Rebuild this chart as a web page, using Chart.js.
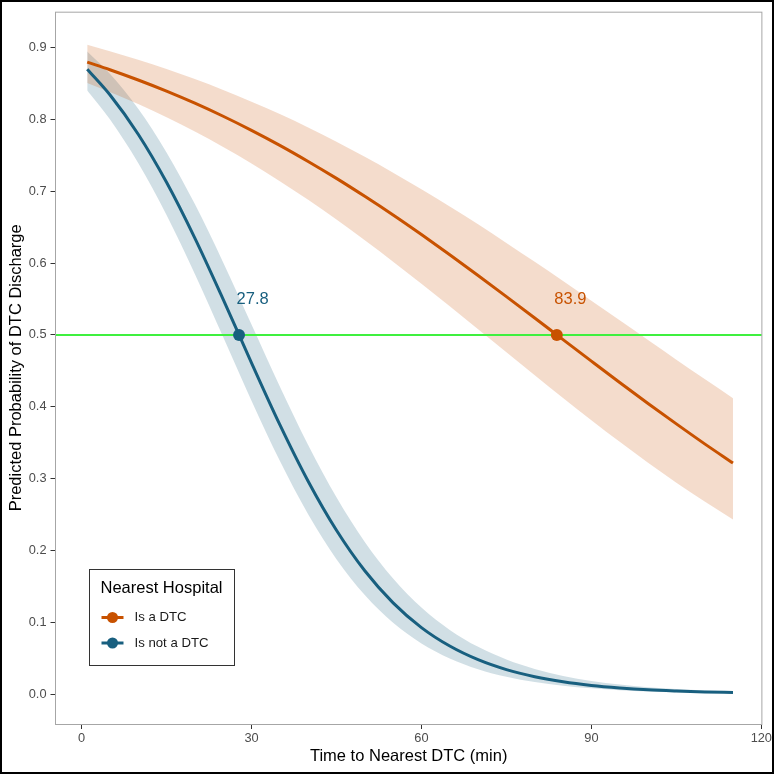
<!DOCTYPE html>
<html>
<head>
<meta charset="utf-8">
<script src="https://cdn.jsdelivr.net/npm/chart.js@4.4.1/dist/chart.umd.min.js"></script>
<style>
    html, body { margin: 0; padding: 0; background: #fff; }
    #wrap { position: relative; width: 774px; height: 774px; }
</style>
</head>
<body>
<div id="wrap"><canvas id="probChart" width="774" height="774"></canvas></div>
<script>
// values
let times = [1, 5, 10, 15, 20, 25, 30, 35, 40, 45, 50, 55, 60, 65, 70, 75, 80, 85, 90, 95, 100, 105, 110, 115];

let dtcFit = [0.8797, 0.8692, 0.8549, 0.8394, 0.8226, 0.8044, 0.7848, 0.7639, 0.7415, 0.7179, 0.6929, 0.6669, 0.6397, 0.6116, 0.5827, 0.5533, 0.5235, 0.4934, 0.4635, 0.4338, 0.4046, 0.3761, 0.3483, 0.3216];
let dtcUpper = [0.9038, 0.8950, 0.8832, 0.8702, 0.8562, 0.8410, 0.8247, 0.8074, 0.7887, 0.7689, 0.7480, 0.7259, 0.7029, 0.6787, 0.6539, 0.6281, 0.6018, 0.5749, 0.5477, 0.5203, 0.4929, 0.4655, 0.4385, 0.4118];
let dtcLower = [0.8507, 0.8382, 0.8214, 0.8030, 0.7831, 0.7617, 0.7387, 0.7140, 0.6881, 0.6606, 0.6318, 0.6020, 0.5713, 0.5399, 0.5080, 0.4760, 0.4440, 0.4122, 0.3812, 0.3511, 0.3221, 0.2943, 0.2679, 0.2430];

let nonFit = [0.8699, 0.8343, 0.7794, 0.7125, 0.6348, 0.5495, 0.4611, 0.3751, 0.2963, 0.2280, 0.1716, 0.1269, 0.0925, 0.0668, 0.0478, 0.0340, 0.0241, 0.0170, 0.0120, 0.0085, 0.0059, 0.0042, 0.0029, 0.0021];
let nonUpper = [0.8946, 0.8636, 0.8148, 0.7541, 0.6821, 0.6009, 0.5146, 0.4283, 0.3468, 0.2740, 0.2118, 0.1609, 0.1205, 0.0893, 0.0657, 0.0480, 0.0349, 0.0253, 0.0183, 0.0132, 0.0095, 0.0069, 0.0050, 0.0036];
let nonLower = [0.8404, 0.8002, 0.7392, 0.6669, 0.5848, 0.4970, 0.4084, 0.3247, 0.2503, 0.1878, 0.1378, 0.0992, 0.0705, 0.0496, 0.0346, 0.0240, 0.0166, 0.0114, 0.0079, 0.0054, 0.0037, 0.0025, 0.0017, 0.0012];

let groups = ['Is a DTC', 'Is not a DTC'];
let crossTimes = [83.9, 27.8];
let threshold = 0.5;

let xTicks = [0, 30, 60, 90, 120];
let yTicks = [0.0, 0.1, 0.2, 0.3, 0.4, 0.5, 0.6, 0.7, 0.8, 0.9];
let xRange = [-4.6, 120.1];
let yRange = [-0.0417, 0.95];

let orange = '#c85200';
let blue = '#185f7f';
let fontFamily = '"Liberation Sans", Arial, Helvetica, sans-serif';

function points(values) {
    return times.map((t, i) => ({ x: t, y: values[i] }));
}

function lineSet(values, color, extra) {
    let ds = {
        data: points(values),
        borderColor: color,
        borderWidth: 3,
        pointRadius: 0,
        cubicInterpolationMode: 'monotone',
        fill: false,
        order: 1
    };
    return Object.assign(ds, extra || {});
}

// panel border, value labels, legend and outer frame
let decorations = {
    id: 'decorations',
    beforeDraw(chart) {
        let ctx = chart.ctx;
        ctx.save();
        ctx.fillStyle = '#fff';
        ctx.fillRect(0, 0, chart.width, chart.height);
        ctx.restore();
    },
    afterDatasetsDraw(chart) {
        let ctx = chart.ctx;
        let x = chart.scales.x;
        let y = chart.scales.y;
        let colors = [orange, blue];
        ctx.save();
        ctx.font = '16.5px ' + fontFamily;
        ctx.textAlign = 'center';
        ctx.textBaseline = 'middle';
        crossTimes.forEach((t, i) => {
            ctx.fillStyle = colors[i];
            ctx.fillText(t.toFixed(1), x.getPixelForValue(t + 2.4), y.getPixelForValue(threshold + 0.05));
        });
        ctx.restore();
    },
    afterDraw(chart) {
        let ctx = chart.ctx;
        let a = chart.chartArea;
        ctx.save();

        ctx.strokeStyle = '#a6a6a6';
        ctx.lineWidth = 1;
        ctx.strokeRect(a.left, a.top + 0.5, a.right - a.left, a.bottom - a.top);

        // legend box
        ctx.fillStyle = '#fff';
        ctx.fillRect(89.5, 569.5, 145, 96);
        ctx.strokeStyle = '#333';
        ctx.strokeRect(89.5, 569.5, 145, 96);
        ctx.fillStyle = '#000';
        ctx.textAlign = 'left';
        ctx.textBaseline = 'middle';
        ctx.font = '16.5px ' + fontFamily;
        ctx.fillText('Nearest Hospital', 100.5, 588.5);

        let colors = [orange, blue];
        ctx.font = '13.2px ' + fontFamily;
        groups.forEach((g, i) => {
            let cy = 617.5 + i * 25.5;
            ctx.strokeStyle = colors[i];
            ctx.lineWidth = 3;
            ctx.beginPath();
            ctx.moveTo(101.5, cy);
            ctx.lineTo(123.5, cy);
            ctx.stroke();
            ctx.fillStyle = colors[i];
            ctx.beginPath();
            ctx.arc(112.5, cy, 5.5, 0, Math.PI * 2);
            ctx.fill();
            ctx.fillStyle = '#1a1a1a';
            ctx.fillText(g, 134.5, cy);
        });

        ctx.strokeStyle = '#000';
        ctx.lineWidth = 2;
        ctx.strokeRect(1, 1, chart.width - 2, chart.height - 2);
        ctx.restore();
    }
};

function drawChart() {
    let ctx = document.getElementById('probChart').getContext('2d');

    let chart = new Chart(ctx, {
        type: 'line',
        data: {
            datasets: [
                lineSet(dtcUpper, 'rgba(0,0,0,0)', { borderWidth: 0, fill: '+1', backgroundColor: 'rgba(200,82,0,0.2)', order: 3 }),
                lineSet(dtcLower, 'rgba(0,0,0,0)', { borderWidth: 0, order: 3 }),
                lineSet(nonUpper, 'rgba(0,0,0,0)', { borderWidth: 0, fill: '+1', backgroundColor: 'rgba(24,95,127,0.2)', order: 3 }),
                lineSet(nonLower, 'rgba(0,0,0,0)', { borderWidth: 0, order: 3 }),
                {
                    data: [{ x: xRange[0], y: threshold }, { x: xRange[1], y: threshold }],
                    borderColor: '#3ff03f',
                    borderWidth: 2,
                    pointRadius: 0,
                    fill: false,
                    order: 2
                },
                lineSet(dtcFit, orange),
                lineSet(nonFit, blue),
                {
                    data: crossTimes.map(t => ({ x: t, y: threshold })),
                    showLine: false,
                    pointRadius: 6,
                    pointBorderWidth: 0,
                    pointBackgroundColor: [orange, blue],
                    order: 0
                }
            ]
        },
        options: {
            responsive: false,
            animation: false,
            devicePixelRatio: 1,
            layout: { padding: { left: 0, top: 10, right: 11, bottom: 0 } },
            plugins: {
                legend: { display: false },
                tooltip: { enabled: false }
            },
            scales: {
                x: {
                    type: 'linear',
                    min: xRange[0],
                    max: xRange[1],
                    afterBuildTicks: (s) => { s.ticks = xTicks.map(v => ({ value: v })); },
                    afterFit: (s) => { s.height = 50; },
                    grid: { drawOnChartArea: false, drawTicks: true, tickLength: 5, color: '#333' },
                    border: { display: false },
                    ticks: {
                        padding: 2,
                        color: '#4d4d4d',
                        font: { family: fontFamily, size: 12.8 },
                        maxRotation: 0,
                        callback: (v) => String(v)
                    },
                    title: {
                        display: true,
                        text: 'Time to Nearest DTC (min)',
                        color: '#000',
                        font: { family: fontFamily, size: 16.5 },
                        padding: { top: 0, bottom: 8 }
                    }
                },
                y: {
                    type: 'linear',
                    min: yRange[0],
                    max: yRange[1],
                    afterBuildTicks: (s) => { s.ticks = yTicks.map(v => ({ value: v })); },
                    afterFit: (s) => { s.width = 55.5; },
                    grid: { drawOnChartArea: false, drawTicks: true, tickLength: 5, color: '#333' },
                    border: { display: false },
                    ticks: {
                        padding: 4,
                        color: '#4d4d4d',
                        font: { family: fontFamily, size: 12.8 },
                        callback: (v) => v.toFixed(1)
                    },
                    title: {
                        display: true,
                        text: 'Predicted Probability of DTC Discharge',
                        color: '#000',
                        font: { family: fontFamily, size: 16.5 },
                        padding: { top: 7, bottom: 0 }
                    }
                }
            }
        },
        plugins: [decorations]
    });
    return chart;
}

drawChart();
</script>
</body>
</html>
